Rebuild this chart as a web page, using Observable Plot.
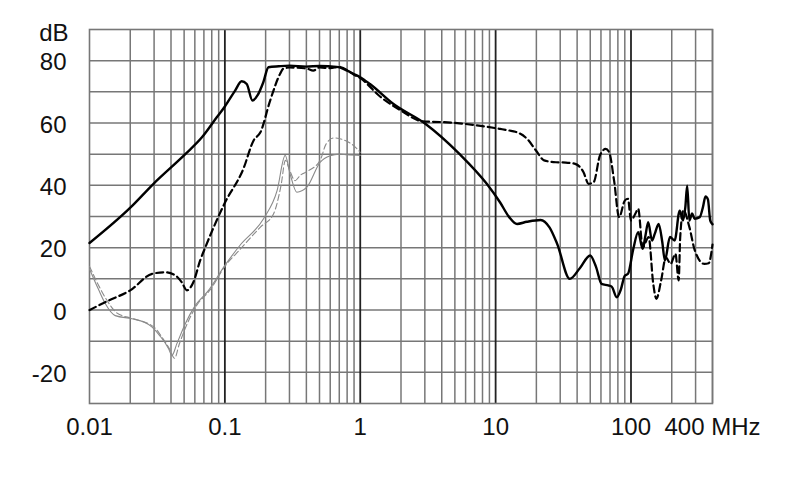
<!DOCTYPE html>
<html>
<head>
<meta charset="utf-8">
<script src="https://cdn.jsdelivr.net/npm/d3@7"></script>
<script src="https://cdn.jsdelivr.net/npm/@observablehq/plot@0.6"></script>
<style>
  html, body { margin: 0; padding: 0; background: #fff; }
  #chart { width: 790px; height: 499px; }
</style>
</head>
<body>
<div id="chart"></div>
<script>
// ---- data (frequency in MHz, level in dB) ----
const solidFreq = [0.01, 0.0202, 0.0297, 0.051, 0.0677, 0.0874, 0.1, 0.119, 0.133, 0.145, 0.16, 0.175, 0.192, 0.21, 0.25, 0.3, 0.4, 0.5, 0.67, 0.8, 0.89, 1.0, 1.18, 1.76, 3.04, 5.4, 8.6, 10.8, 12.6, 14.4, 17, 21.5, 25, 28.5, 35.3, 42, 49.9, 55, 60.6, 67.8, 72, 78.5, 84, 90, 95, 104, 113, 122, 128, 134, 143, 150, 160, 170, 178, 194, 210, 229, 242, 252, 260, 270, 283, 295, 322, 340, 355, 370, 385, 400];
const solidDb   = [21.5, 33, 40.5, 50, 55.4, 61.9, 65.3, 70.4, 73.4, 72.5, 67.2, 69, 73, 77.9, 78.2, 78.4, 78.1, 78.3, 78, 76.8, 75.8, 74.7, 72.5, 66.1, 59.7, 50.1, 40.5, 34.5, 29.8, 27.6, 28.3, 28.9, 26.5, 21.2, 10, 13.5, 17.5, 14, 8.4, 7.9, 7.5, 4.1, 6.5, 11, 11.6, 19.6, 25, 19.6, 24, 28.2, 22.3, 24.5, 27.6, 22, 15.9, 23.4, 22.3, 31.9, 28.7, 33, 39.9, 28.7, 31, 29.3, 29.8, 33, 36.4, 35.5, 28.7, 27.5];

const dashedFreq = [0.01, 0.0138, 0.02, 0.029, 0.036, 0.043, 0.048, 0.0524, 0.0586, 0.0657, 0.0717, 0.1, 0.137, 0.163, 0.183, 0.216, 0.256, 0.27, 0.3, 0.4, 0.45, 0.5, 0.6, 0.7, 0.9, 1.0, 1.4, 2, 2.9, 4, 5.4, 8, 10.8, 12.6, 14, 17.1, 20, 22.8, 27.9, 33, 38.7, 44.6, 48.6, 53, 59, 65, 69, 75, 81.7, 90, 95, 100, 108, 113, 122, 135, 146, 154, 167, 181, 196, 213, 225, 231, 244, 270, 296, 348, 375, 400];
const dashedDb   = [0, 3, 6.3, 11.6, 12.1, 11.1, 8.9, 6.3, 9, 15.9, 20.1, 34.4, 45.3, 54.4, 57, 67.2, 75.8, 77.4, 77.8, 77.5, 76.8, 77.8, 77.6, 78, 75.5, 74.4, 68.5, 64, 60.5, 60.3, 59.9, 59, 58.1, 57.6, 57.2, 54.9, 51, 48, 47.4, 47.3, 46.9, 44.2, 40.5, 41, 49.6, 51.7, 50.6, 41.5, 29.8, 35.1, 35.7, 28.7, 31, 32.5, 20.1, 23.4, 8.4, 3.6, 9.5, 16.9, 14.8, 18, 9.5, 23.4, 32, 26.6, 19.1, 14.8, 15, 21];

const graySolidFreq = [0.01, 0.0116, 0.0131, 0.0155, 0.0206, 0.025, 0.029, 0.033, 0.0384, 0.0406, 0.0442, 0.051, 0.0603, 0.0758, 0.1, 0.129, 0.193, 0.243, 0.279, 0.303, 0.34, 0.403, 0.505, 0.6, 0.7, 0.8, 1.0];
const graySolidDb   = [13.2, 6.8, 2, -1.8, -2.8, -3.8, -5.5, -8.2, -12.4, -14.6, -10.8, -4.4, 1.4, 6.3, 14.3, 20.7, 29.3, 38.3, 49.6, 43.7, 37.8, 39.4, 47.4, 49.5, 50, 49.8, 49.6];

const grayDashedFreq = [0.01, 0.0118, 0.0135, 0.016, 0.021, 0.03, 0.034, 0.039, 0.0425, 0.046, 0.052, 0.062, 0.078, 0.1, 0.13, 0.183, 0.229, 0.26, 0.28, 0.3, 0.33, 0.36, 0.415, 0.505, 0.56, 0.636, 0.75, 0.89, 1.0];
const grayDashedDb   = [14, 7.5, 3, -1, -2.8, -5.5, -8.5, -12.5, -15.5, -11, -5, 1.5, 6.5, 14, 19.5, 26.6, 30.9, 40, 48, 45, 41.5, 43.2, 44.7, 48, 53.3, 55.2, 54.6, 52.8, 50.6];

// ---- axis / grid values ----
const xTicks = [0.01, 0.1, 1, 10, 100, 400];
const xTickLabels = ["0.01", "0.1", "1", "10", "100", "400 MHz"];
const yTicks = [-20, 0, 20, 40, 60, 80];
const yTickLabels = ["-20", "0", "20", "40", "60", "80"];
const yGrid = [-20, -10, 0, 10, 20, 30, 40, 50, 60, 70, 80];
const decades = [0.1, 1, 10, 100];
const minorMult = [2, 3, 4, 5, 6, 7, 8, 9];
const decadeStarts = [0.01, 0.1, 1, 10, 100];
const yUnit = "dB";

const toRows = (fs, vs) => fs.map((f, i) => ({f, v: vs[i]}));
const minorGrid = decadeStarts.flatMap(d => minorMult.map(m => d * m)).filter(v => v <= 400);
const xLabelRows = xTicks.map((t, i) => ({t, label: xTickLabels[i]}));
const yLabelRows = yTicks.map((t, i) => ({t, label: yTickLabels[i]}));

const FS = 24;
const chart = Plot.plot({
  width: 790,
  height: 499,
  marginLeft: 89,
  marginRight: 78,
  marginTop: 29,
  marginBottom: 96,
  style: {fontFamily: "'Liberation Sans', Arial, sans-serif", fontSize: FS + "px", background: "#fff", color: "#111"},
  x: {type: "log", domain: [0.01, 400], label: null, axis: null},
  y: {domain: [-30, 90], label: null, axis: null},
  marks: [
    Plot.ruleX(minorGrid, {stroke: "#777", strokeWidth: 1.5}),
    Plot.ruleY(yGrid, {stroke: "#777", strokeWidth: 1.5}),
    Plot.ruleX(decades, {stroke: "#222", strokeWidth: 1.8}),
    Plot.frame({stroke: "#777", strokeWidth: 1.6}),
    Plot.line(toRows(graySolidFreq, graySolidDb), {x: "f", y: "v", stroke: "#8a8a8a", strokeWidth: 1.1, curve: "monotone-x"}),
    Plot.line(toRows(grayDashedFreq, grayDashedDb), {x: "f", y: "v", stroke: "#8a8a8a", strokeWidth: 1.1, strokeDasharray: "6,3", curve: "monotone-x"}),
    Plot.line(toRows(dashedFreq, dashedDb), {x: "f", y: "v", stroke: "#000", strokeWidth: 2.2, strokeDasharray: "7,4", curve: "monotone-x"}),
    Plot.line(toRows(solidFreq, solidDb), {x: "f", y: "v", stroke: "#000", strokeWidth: 2.4, curve: "monotone-x"}),
    Plot.text(xLabelRows, {x: "t", text: "label", frameAnchor: "bottom", lineAnchor: "top", dy: 14, fontSize: FS, fill: "#111"}),
    Plot.text(yLabelRows, {y: "t", text: "label", frameAnchor: "left", textAnchor: "end", dx: -23, dy: 2, fontSize: FS, fill: "#111"}),
    Plot.text([yUnit], {frameAnchor: "top-left", dx: -21, dy: 4, textAnchor: "end", lineAnchor: "middle", fontSize: FS, fill: "#111"})
  ]
});
document.getElementById("chart").append(chart);
</script>
</body>
</html>
